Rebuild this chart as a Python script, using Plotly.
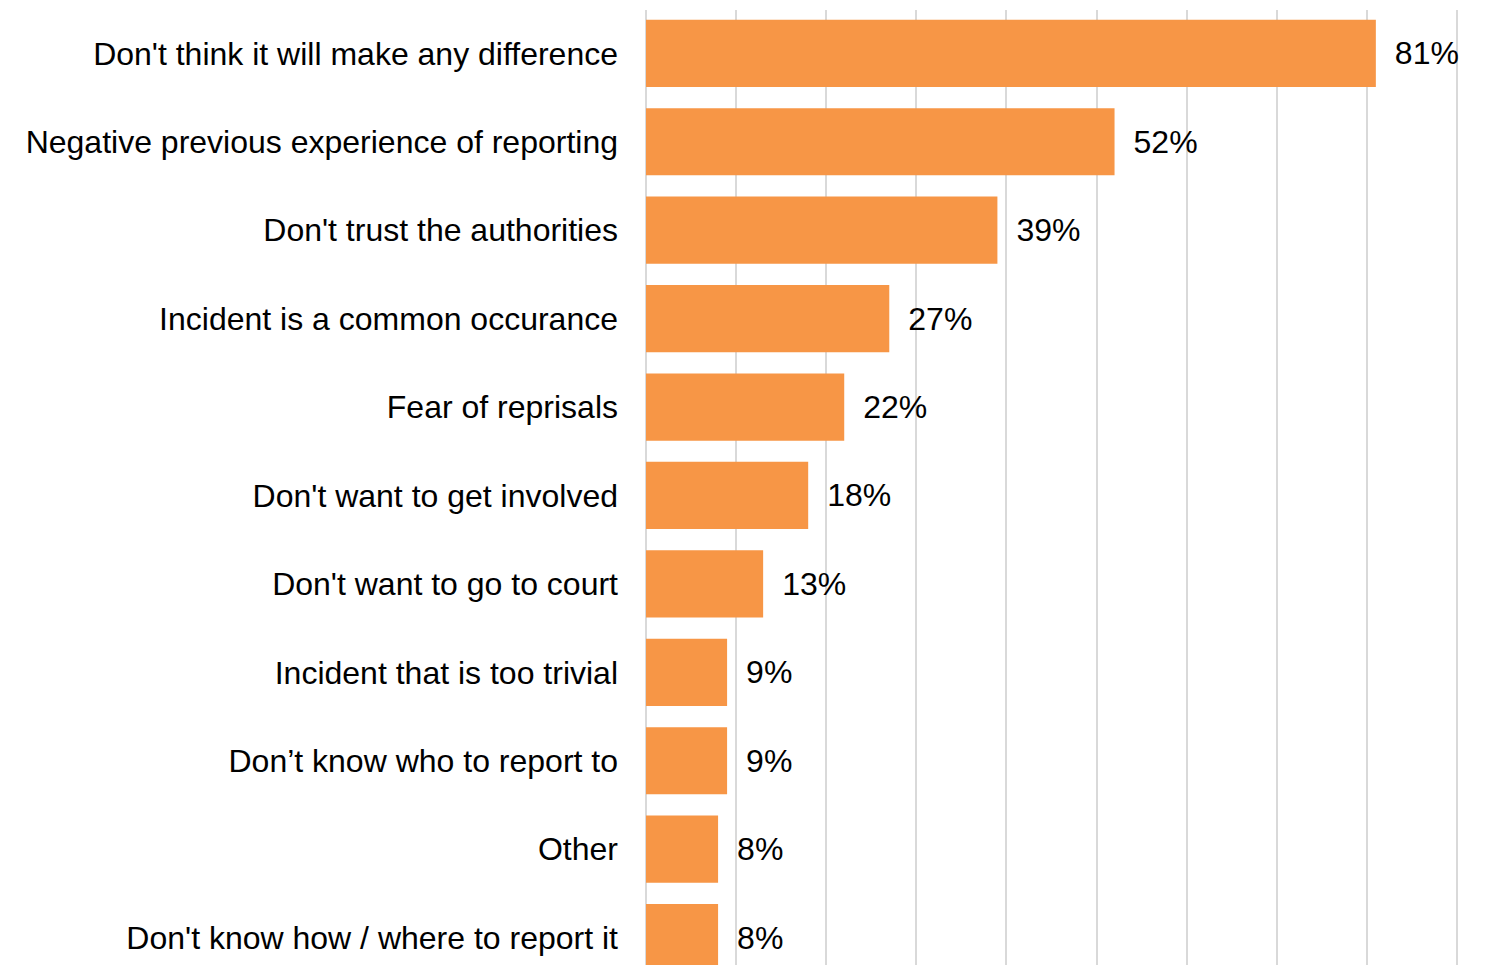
import plotly.graph_objects as go

categories = [
    "Don't think it will make any difference",
    "Negative previous experience of reporting",
    "Don't trust the authorities",
    "Incident is a common occurance",
    "Fear of reprisals",
    "Don't want to get involved",
    "Don't want to go to court",
    "Incident that is too trivial",
    "Don\u2019t know who to report to",
    "Other",
    "Don't know how / where to report it",
]
values = [81, 52, 39, 27, 22, 18, 13, 9, 9, 8, 8]
labels = [f"{v}%" for v in values]

FONT = "Liberation Sans, Arial, sans-serif"
FS = 32

fig = go.Figure(
    go.Bar(
        x=values,
        y=categories,
        orientation="h",
        marker=dict(color="#F79646", line=dict(width=0)),
        text=labels,
        texttemplate="\u2002%{text}",
        textposition="outside",
        constraintext="none",
        cliponaxis=False,
        textfont=dict(family=FONT, size=FS, color="#000000"),
        hoverinfo="skip",
    )
)

fig.update_layout(
    width=1479,
    height=957,
    margin=dict(l=638, r=26, t=2, b=0, pad=0),
    paper_bgcolor="white",
    plot_bgcolor="white",
    bargap=0.24,
    showlegend=False,
    font=dict(family=FONT, size=FS, color="#000000"),
    xaxis=dict(
        range=[0, 90.45],
        dtick=10,
        tick0=0,
        showgrid=True,
        gridcolor="#D9D9D9",
        gridwidth=2,
        showticklabels=False,
        zeroline=True,
        zerolinecolor="#D9D9D9",
        zerolinewidth=2,
        showline=False,
        fixedrange=True,
    ),
    yaxis=dict(
        type="category",
        categoryorder="array",
        categoryarray=categories,
        range=[10.31, -0.49],
        showgrid=False,
        showline=False,
        ticks="",
        ticklabelstandoff=27,
        tickfont=dict(family=FONT, size=FS, color="#000000"),
        fixedrange=True,
    ),
)

fig.write_html("out.html")
